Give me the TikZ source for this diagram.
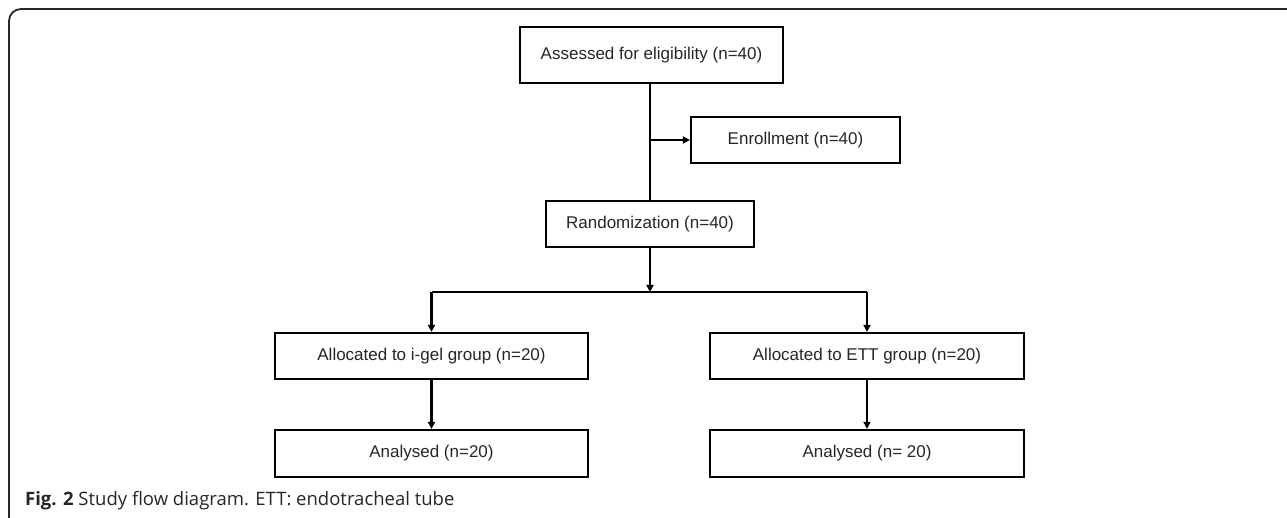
\documentclass[tikz,border=0pt]{standalone}
\usepackage{fontspec}
\setmainfont{Liberation Sans}
\newfontfamily\capfont{Open Sans}
\newfontfamily\boxfont{Liberation Sans}
\usetikzlibrary{arrows.meta}
\begin{document}
\begin{tikzpicture}[x=1pt,y=-1pt,
  flowbox/.style={draw=black, line width=2.2pt, fill=white, inner sep=0pt,
    font=\boxfont\fontsize{17}{19}\selectfont, text=black!85},
  conn/.style={line width=2.2pt},
  arr/.style={conn, -{Triangle[length=7pt,width=7pt]}}]
\useasboundingbox (0,0) rectangle (1287,518);
% frame
\draw[line width=1.8pt, black!85] (9,518) -- (9,21) arc[start angle=180, end angle=270, radius=12] -- (1287,9);
% nodes
\node[flowbox, minimum width=263pt, minimum height=56pt] (elig) at (651.5,55) {Assessed for eligibility (n=40)};
\node[flowbox, minimum width=209pt, minimum height=46pt] (enrol) at (795.5,140) {Enrollment (n=40)};
\node[flowbox, minimum width=208pt, minimum height=46pt] (rand) at (650,224) {Randomization (n=40)};
\node[flowbox, minimum width=313pt, minimum height=46pt] (igel) at (431.5,356) {Allocated to i-gel group (n=20)};
\node[flowbox, minimum width=314pt, minimum height=46pt] (ett) at (867,356) {Allocated to ETT group (n=20)};
\node[flowbox, minimum width=313pt, minimum height=47pt] (an1) at (431.5,453.5) {Analysed (n=20)};
\node[flowbox, minimum width=314pt, minimum height=47pt] (an2) at (867,453.5) {Analysed (n= 20)};
\coordinate (split) at (650,292);
\coordinate (branch) at (650,140);
% connectors
\draw[conn] (elig.south -| rand.north) -- (rand.north);
\draw[arr] (branch) -- (enrol.west);
\draw[arr] (rand.south) -- (split);
\draw[conn] (split -| igel.north) -- (split -| ett.north);
\draw[arr] (split -| igel.north) -- (igel.north);
\draw[arr] (split -| ett.north) -- (ett.north);
\draw[arr] (igel.south) -- (an1.north);
\draw[arr] (ett.south) -- (an2.north);
% caption
\node[anchor=base west, inner sep=0pt, font=\capfont\fontsize{18.5}{20}\selectfont, text=black!85] (cap) at (25,505) {\textbf{Fig. 2} Study flow diagram. ETT: endotracheal tube};
\end{tikzpicture}
\end{document}
